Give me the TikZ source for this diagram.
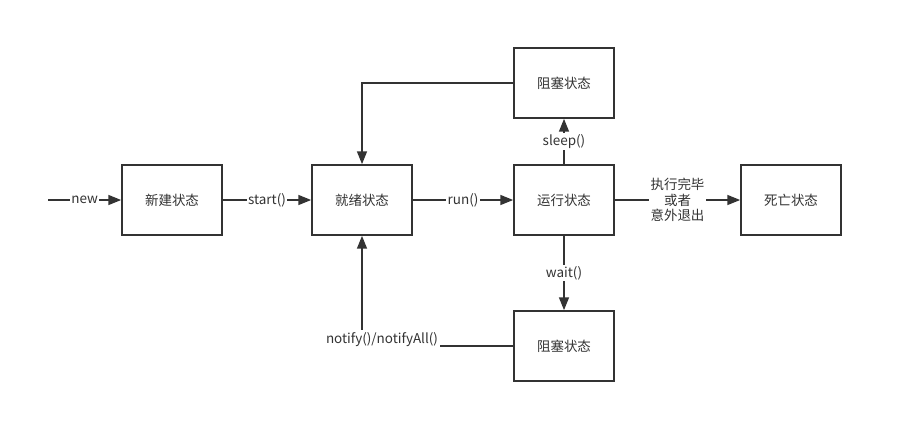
\documentclass[tikz,border=0pt]{standalone}
\usepackage{fontspec}
\setmainfont{Noto Sans CJK SC}
\usetikzlibrary{arrows.meta,positioning}
\definecolor{sline}{RGB}{51,51,51}
\tikzset{
  state/.style ={rectangle, draw=sline, line width=1.4pt, fill=white,
                 minimum width=3cm, minimum height=2.1cm, align=center,
                 font=\fontsize{11.5}{14}\selectfont, text=sline},
  ar/.style    ={-{Triangle[length=11pt,width=8.5pt]}, draw=sline, line width=1.4pt},
  lbl/.style   ={fill=white, inner sep=1pt, align=center,
                 font=\fontsize{11.5}{13}\selectfont, text=sline}
}
\begin{document}
\begin{tikzpicture}[x=0.03cm, y=-0.03cm]
\useasboundingbox (0,0) rectangle (903,443);

\coordinate (in) at (48,200);
\node[state] (new)   at (172,200) {新建状态};
\node[state] (ready) at (362,200) {就绪状态};
\node[state] (run)   at (564,200) {运行状态};
\node[state] (dead)  at (791,200) {死亡状态};
\node[state] (blk1)  at (564,83)  {阻塞状态};
\node[state] (blk2)  at (564,346) {阻塞状态};

\draw[ar] (in) -- node[lbl]{new} (new);
\draw[ar] (new) -- node[lbl]{start()} (ready);
\draw[ar] (ready) -- node[lbl]{run()} (run);
\draw[ar] (run) -- node[lbl]{执行完毕\\或者\\意外退出} (dead);
\draw[ar] (run) -- node[lbl]{sleep()} (blk1);
\draw[ar] (run) -- node[lbl]{wait()} (blk2);
\draw[ar] (blk1.west) -| (ready.north);
\draw[ar] (blk2.west) -| node[lbl, pos=0.5, inner sep=2pt, xshift=0.6cm, yshift=0.2cm]{notify()/notifyAll()} (ready.south);
\end{tikzpicture}
\end{document}
